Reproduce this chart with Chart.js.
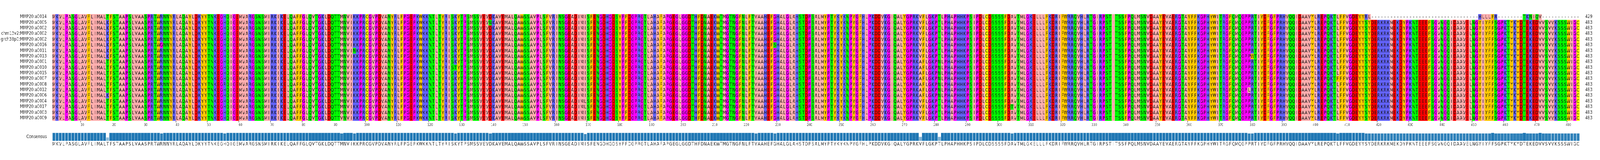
<!DOCTYPE html>
<html><head><meta charset="utf-8">
<script src="https://cdn.jsdelivr.net/npm/chart.js@4.4.1/dist/chart.umd.min.js"></script>
<style>html,body{margin:0;padding:0;background:#fff;overflow:hidden;height:409px}
#wrap{position:absolute;left:0;top:0;width:5100px;height:409px;transform-origin:0 0}
#a{position:absolute;left:0;top:0}#b{position:absolute;left:0;top:322px}</style></head>
<body><div id="wrap"><canvas id="a" width="5100" height="330"></canvas><canvas id="b" width="5100" height="87"></canvas></div>
<script>
document.getElementById("wrap").style.transform="scaleX("+(window.innerWidth/5100)+")";
const rowNames = ["MMP20:a0014","MMP20:a0005","MMP20:a0002","chm13v2:MMP20:a0002","grch38p0:MMP20:a0002","MMP20:a0016","MMP20:a0011","MMP20:a0013","MMP20:a0001","MMP20:a0010","MMP20:a0015","MMP20:a0007","MMP20:a0008","MMP20:a0012","MMP20:a0006","MMP20:a0004","MMP20:a0017","MMP20:a0003","MMP20:a0009"];
const seqLengths = [429,483,483,483,483,483,483,483,483,483,483,483,483,483,483,483,483,483,483];
const consensus = "MKVLPASGLAVFLIMALTFSTAAPSLVAASPRTWRNNYRLAQAYLDKYYTNKEGHQIGEMVARGSNSMIRKIKELQAFFGLQVTGKLDQTTMNVIKKPRCGVPDVANYRLFPGEPKWKKNTLTYRISKYTPSMSSVEVDKAVEMALQAWSSAVPLSFVRINSGEADIMISFENGDHGDSYPFDGPRGTLAHAFAPGEGLGGDTHFDNAEKWTMGTNGFNLFTVAAHEFGHALGLAHSTDPSALMYPTYKYKNPYGFHLPKDDVKGIQALYGPRKVFLGKPTLPHAPHHKPSIPDLCDSSSSFDAVTMLGKELLLFKDRIFWRRQVHLRTGIRPSTITSSFPQLMSNVDAAYEVAERGTAYFFKGPHYWITRGFQMQGPPRTIYDFGFPRHVQQIDAAVYLREPQKTLFFVGDEYYSYDERKRKMEKDYPKNTEEEFSGVNGQIDAAVELNGYIYFFSGPKTYKYDTEKEDVVSVVKSSSWIGC";
// [row, column(1-based), residue]
const variants = [
 [1,18,"K"],[2,18,"K"],[3,18,"K"],[4,18,"K"],[5,18,"K"],[6,18,"K"],[7,18,"K"],[14,18,"K"],
 [5,35,"G"],[12,55,"R"],[18,92,"V"],[6,96,"N"],[9,128,"T"],[1,139,"N"],
 [15,169,"L"],[16,169,"L"],[10,223,"I"],[5,229,"S"],
 [8,275,"A"],[9,275,"A"],[10,275,"A"],[11,275,"A"],[12,275,"A"],[13,275,"A"],[14,275,"A"],
 [8,281,"N"],[9,281,"N"],[10,281,"N"],[11,281,"N"],[12,281,"N"],[13,281,"N"],[14,281,"N"],
 [16,304,"T"],[13,379,"L"],[7,380,"W"],[11,407,"F"],[0,416,"R"],[0,417,"L"]
];
const row0TailStart = 418;
const row0Tail = "----------------------------------HLLLFR--------TKNIQV------------";
const tickEvery = 10;

const colors = {A:"#ffafaf",I:"#ffafaf",L:"#ffafaf",M:"#ffafaf",V:"#ffafaf",C:"#ffff00",F:"#ffc800",W:"#ffc800",Y:"#ffc800",G:"#ff00ff",P:"#ff00ff",S:"#00ff00",T:"#00ff00",N:"#00ff00",Q:"#00ff00",K:"#6464ff",R:"#6464ff",H:"#6464ff",D:"#ff0000",E:"#ff0000","-":"#ffffff"};

const N = consensus.length;
const seqs = rowNames.map(()=>consensus.split(""));
variants.forEach(([r,c,a])=>{seqs[r][c-1]=a;});
for(let i=0;i<row0Tail.length;i++) seqs[0][row0TailStart-1+i]=row0Tail[i];
const labels = Array.from({length:N},(_,i)=>String(i+1));
const FONT = "DejaVu Sans";

const letterPlugin = {id:"letters",afterDatasetsDraw(chart){
  const ctx=chart.ctx, xs=chart.scales.x, ys=chart.scales.y;
  ctx.save(); ctx.font="12px '"+FONT+"'"; ctx.fillStyle="#111"; ctx.textAlign="center"; ctx.textBaseline="middle";
  seqs.forEach((s,r)=>{const y=ys.getPixelForValue(r)+1; s.forEach((a,c)=>ctx.fillText(a,xs.getPixelForValue(c),y));});
  ctx.restore();}};

new Chart(document.getElementById("a"),{
  type:"bar",
  data:{labels,datasets:seqs.map((s,r)=>({data:s.map(()=>[r-0.5,r+0.5]),backgroundColor:s.map(a=>colors[a]||"#fff"),grouped:false,barPercentage:1,categoryPercentage:1,borderWidth:0,yAxisID:"y"}))},
  options:{responsive:false,animation:false,devicePixelRatio:1,
    layout:{padding:{top:36,left:0,right:0,bottom:0}},
    plugins:{legend:{display:false},tooltip:{enabled:false}},
    scales:{
      x:{grid:{drawOnChartArea:false,drawTicks:true,tickLength:4,color:c=>((c.index+1)%tickEvery===0?"#333":"rgba(0,0,0,0)")},border:{display:false},
         ticks:{autoSkip:false,maxRotation:0,minRotation:0,padding:1,color:"#444",font:{family:FONT,size:9},callback:(v,i)=>((i+1)%tickEvery===0?String(i+1):"")},
         afterFit:s=>{s.height=21;}},
      y:{type:"linear",min:-0.5,max:18.5,reverse:true,position:"left",grid:{display:false},border:{display:false},
         afterBuildTicks:s=>{s.ticks=rowNames.map((_,i)=>({value:i}));},
         ticks:{autoSkip:false,color:"#333",padding:10,font:{family:FONT,size:12},callback:v=>rowNames[v]},
         afterFit:s=>{s.width=167;}},
      y2:{type:"linear",min:-0.5,max:18.5,reverse:true,position:"right",grid:{display:false},border:{display:false},
         afterBuildTicks:s=>{s.ticks=rowNames.map((_,i)=>({value:i}));},
         ticks:{autoSkip:false,color:"#333",padding:10,font:{family:FONT,size:12},callback:v=>String(seqLengths[v])},
         afterFit:s=>{s.width=65;}}
    }},
  plugins:[letterPlugin]});

const conservation = consensus.split("").map((a,c)=>seqs.filter(s=>s[c]===a).length/seqs.length);
function shade(f){const m=Math.min(1,(1-f)*1.2);const b=[31,119,180];return "rgb("+b.map(v=>Math.round(v+(255-v)*m)).join(",")+")";}

const consPlugin={id:"cons",afterDatasetsDraw(chart){
  const ctx=chart.ctx, xs=chart.scales.x, y=chart.chartArea.bottom+9;
  ctx.save(); ctx.font="12px '"+FONT+"'"; ctx.fillStyle="#333"; ctx.textAlign="center"; ctx.textBaseline="middle";
  consensus.split("").forEach((a,c)=>ctx.fillText(a,xs.getPixelForValue(c),y)); ctx.restore();}};

new Chart(document.getElementById("b"),{
  type:"bar",
  data:{labels,datasets:[{data:conservation,backgroundColor:conservation.map(shade),borderColor:"rgba(230,240,248,1)",borderWidth:1,barPercentage:1,categoryPercentage:1}]},
  options:{responsive:false,animation:false,devicePixelRatio:1,
    layout:{padding:{top:9,right:65,bottom:49}},
    plugins:{legend:{display:false},tooltip:{enabled:false}},
    scales:{
      x:{display:false},
      y:{min:0.25,max:1,grid:{display:false},border:{display:false},
         afterBuildTicks:s=>{s.ticks=[{value:0.625}];},
         ticks:{color:"#333",padding:10,font:{family:FONT,size:12},callback:()=>"Consensus"},
         afterFit:s=>{s.width=167;}}
    }},
  plugins:[consPlugin]});
</script></body></html>
